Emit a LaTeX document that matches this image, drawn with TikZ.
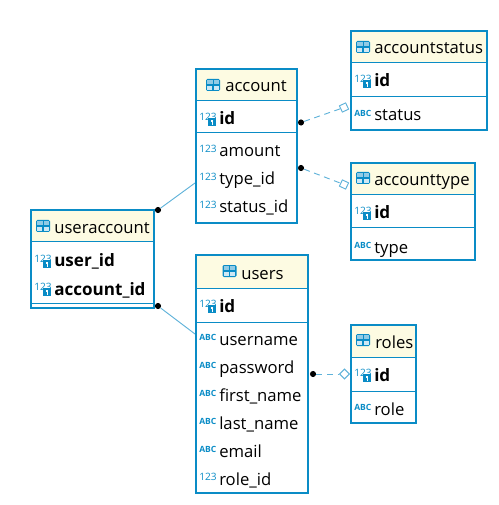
\documentclass[tikz,border=0pt]{standalone}
\usepackage{fontspec}
\setmainfont{Open Sans}
\usetikzlibrary{fit,shapes.geometric}
\definecolor{erblue}{HTML}{0A8CC6}
\definecolor{erline}{HTML}{5FB2D9}
\definecolor{erhead}{HTML}{FDFBE2}
\tikzset{
  tablebox/.style={draw=erblue, line width=1.7pt, inner sep=0pt},
  bigbox/.style={draw=erblue, line width=2.2pt, inner sep=0pt},
  rowline/.style={draw=erblue, line width=.75pt},
  link/.style={draw=erline, line width=.7pt},
  linkdash/.style={link, dash pattern=on 4.5pt off 3.5pt},
  dotend/.style={circle, fill=black, inner sep=0pt, minimum size=4.6pt},
  diaend/.style={diamond, draw=erline, fill=white, line width=.7pt, inner sep=0pt, minimum size=7.6pt},
  title/.style={anchor=base west, inner sep=0pt, font=\fontsize{12.5}{12}\selectfont},
  field/.style={anchor=base west, inner sep=0pt, font=\fontsize{12.5}{12}\selectfont},
  keyname/.style={field, font=\fontsize{12.8}{12}\selectfont\bfseries},
  tiny123/.style={text=erblue, inner sep=0pt, font=\fontsize{7.6}{7}\selectfont},
  tinyabc/.style={text=erblue, inner sep=0pt, font=\fontsize{6.4}{6}\selectfont\bfseries},
  tableicon/.pic={
    \fill[erblue, rounded corners=1pt] (-7,-6) rectangle (7,6);
    \fill[white!55!erblue] (-5.6,-4.6) rectangle (5.6,-.6);
    \fill[white!80!erblue] (-5.6,.6) rectangle (-.7,4.6);
    \fill[white!80!erblue] (.7,.6) rectangle (5.6,4.6);
    \draw[erblue, line width=.7pt] (0,-5) -- (0,0);
  },
  numicon/.pic={\node[tiny123, anchor=west] (-n) at (0,-3) {123};},
  keyicon/.pic={
    \node[tiny123, anchor=west] (-n) at (0,-3) {123};
    \fill[erblue] (9,-2) rectangle (17,6);
    \fill[white] (11.6,-.4) rectangle (14.4,2.4);
    \fill[white] (12.5,2.4) rectangle (13.5,4.6);
  },
  abcicon/.pic={\node[tinyabc, anchor=west] (-n) at (0,-3) {ABC};}
}
\newcommand\colfield[5]{\pic (#2i) at (#3,#4) {#1}; \node[field] (#2) at (#3+20,#4+5) {#5};}
\newcommand\keyfield[4]{\pic (#1i) at (#2,#3) {keyicon}; \node[keyname] (#1) at (#2+20,#3+5) {#4};}
\begin{document}
\begin{tikzpicture}[x=.75pt, y=-.75pt]
  \useasboundingbox (0,0) rectangle (498,505);

  % links go under the boxes
  \node[dotend] (dotacc1) at (301,122.5) {};
  \node[dotend] (dotacc2) at (301,168) {};
  \node[dotend] (dotua1) at (158,210) {};
  \node[dotend] (dotua2) at (158,306) {};
  \node[dotend] (dotus) at (313,374) {};
  \node[diaend, rotate=-20] (diast) at (344,107.5) {};
  \node[diaend, rotate=20] (diaty) at (344,184.5) {};
  \node[diaend] (diaro) at (344.5,374) {};
  \coordinate (endacc) at (195,183);
  \coordinate (endus) at (195,334);
  \draw[linkdash] (dotacc1) -- (diast);
  \draw[linkdash] (dotacc2) -- (diaty);
  \draw[linkdash] (dotus) -- (diaro);
  \draw[link] (dotua1) -- (endacc);
  \draw[link] (dotua2) -- (endus);

  % account
  \fill[erhead] (196,69) rectangle (298,101);
  \node[bigbox, fit={(196,69) (297,223)}] (account) {};
  \draw[rowline] (196,101) -- (297,101);
  \draw[rowline] (196,133) -- (297,133);
  \pic at (213,85) {tableicon};
  \node[title] (accounttitle) at (225,92) {account};
  \keyfield{accid}{199}{120}{id}
  \colfield{numicon}{amount}{199}{152}{amount}
  \colfield{numicon}{typeid}{199}{180}{type\_id}
  \colfield{numicon}{statusid}{199}{208}{status\_id}

  % useraccount
  \fill[erhead] (31,210) rectangle (154,242);
  \node[tablebox, fit={(31,210) (154,308)}] (useraccount) {};
  \draw[rowline] (31,242) -- (154,242);
  \draw[rowline] (31,303) -- (154,303);
  \pic at (43,226) {tableicon};
  \node[title] (useraccounttitle) at (54,234) {useraccount};
  \keyfield{userid}{34}{262}{user\_id}
  \keyfield{accountid}{34}{290}{account\_id}

  % users
  \fill[erhead] (196,255) rectangle (308,288);
  \node[tablebox, fit={(196,255) (308,493)}] (users) {};
  \draw[rowline] (196,288) -- (308,288);
  \draw[rowline] (196,322) -- (308,322);
  \pic at (229.5,271) {tableicon};
  \node[title] (userstitle) at (241,279) {users};
  \keyfield{usid}{199}{307}{id}
  \colfield{abcicon}{username}{199}{340}{username}
  \colfield{abcicon}{password}{199}{368}{password}
  \colfield{abcicon}{firstname}{199}{396}{first\_name}
  \colfield{abcicon}{lastname}{199}{424}{last\_name}
  \colfield{abcicon}{email}{199}{452}{email}
  \colfield{numicon}{roleid}{199}{480}{role\_id}

  % accountstatus
  \fill[erhead] (351,31) rectangle (487,63);
  \node[tablebox, fit={(351,31) (487,130)}] (accountstatus) {};
  \draw[rowline] (351,63) -- (487,63);
  \draw[rowline] (351,97) -- (487,97);
  \pic at (363,47) {tableicon};
  \node[title] (accountstatustitle) at (374,54) {accountstatus};
  \keyfield{astid}{354}{82}{id}
  \colfield{abcicon}{status}{354}{116}{status}

  % accounttype
  \fill[erhead] (351,163) rectangle (475,195);
  \node[tablebox, fit={(351,163) (475,260)}] (accounttype) {};
  \draw[rowline] (351,195) -- (475,195);
  \draw[rowline] (351,228) -- (475,228);
  \pic at (363,178) {tableicon};
  \node[title] (accounttypetitle) at (374,186) {accounttype};
  \keyfield{atyid}{354}{214}{id}
  \colfield{abcicon}{type}{354}{248}{type}

  % roles
  \fill[erhead] (351,325) rectangle (416,357);
  \node[tablebox, fit={(351,325) (416,423)}] (roles) {};
  \draw[rowline] (351,357) -- (416,357);
  \draw[rowline] (351,391) -- (416,391);
  \pic at (363,340) {tableicon};
  \node[title] (rolestitle) at (375,348.5) {roles};
  \keyfield{roid}{354}{376}{id}
  \colfield{abcicon}{role}{354}{410}{role}
\end{tikzpicture}
\end{document}
